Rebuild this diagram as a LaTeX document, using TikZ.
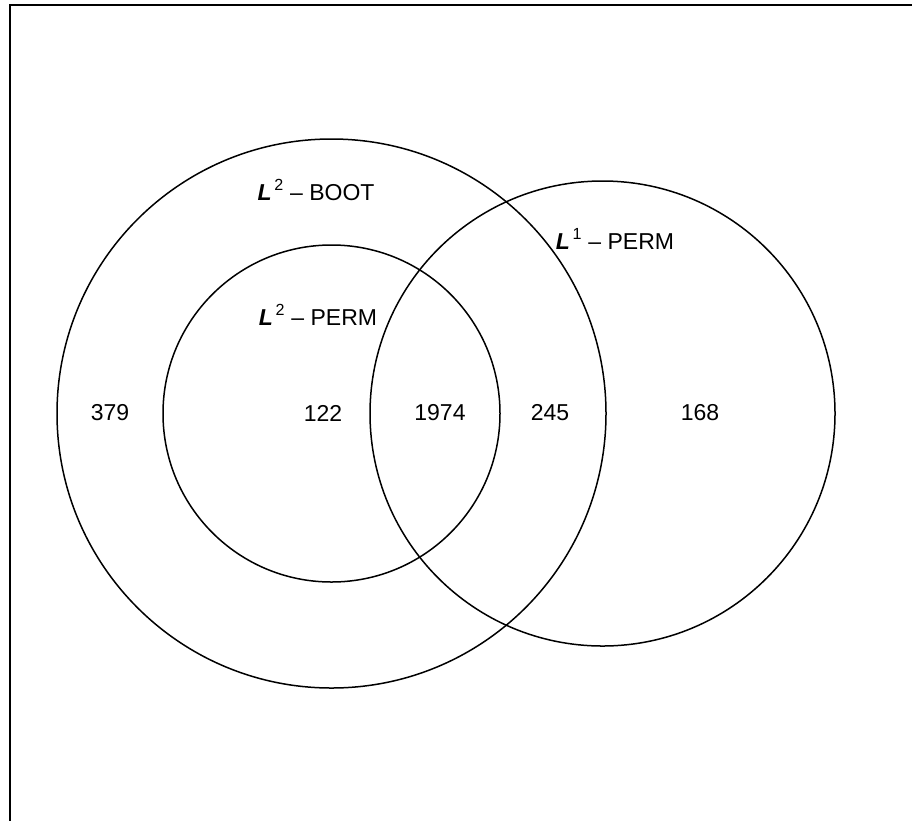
\documentclass[tikz,border=0pt]{standalone}
\usepackage{fontspec}
\setmainfont{Liberation Sans}
\begin{document}
\begin{tikzpicture}[x=1pt,y=-1pt,
  setcircle/.style={draw=black, line width=1.5pt, circle, inner sep=0pt, fill=none},
  lbl/.style={font=\fontsize{23}{26}\selectfont, inner sep=0pt, anchor=base},
  cnt/.style={font=\fontsize{23}{26}\selectfont, inner sep=0pt}]
  \useasboundingbox (0,0) rectangle (912,820);
  % plot frame (only its left and top sides fall inside the page)
  \coordinate (fbl) at (10,830);
  \coordinate (ftl) at (10,5);
  \coordinate (ftr) at (922,5);
  \draw[line width=1.8pt] (fbl) -- (ftl) -- (ftr);
  % the three sets
  \node[setcircle, minimum size=549pt] (boot2) at (331.5,413.5) {};
  \node[setcircle, minimum size=337pt] (perm2) at (331.5,413.5) {};
  \node[setcircle, minimum size=465pt] (perm1) at (602.5,413.5) {};
  % set names
  \node[lbl] (nboot2) at (316,200) {\textbf{\textit{L}}\textsuperscript{\,2} – BOOT};
  \node[lbl] (nperm2) at (318,325) {\textbf{\textit{L}}\textsuperscript{\,2} – PERM};
  \node[lbl] (nperm1) at (615,249) {\textbf{\textit{L}}\textsuperscript{\,1} – PERM};
  % region counts
  \node[cnt] (c379) at (110,413) {379};
  \node[cnt] (c122) at (323,413) {122};
  \node[cnt] (c1974) at (440,413) {1974};
  \node[cnt] (c245) at (550,413) {245};
  \node[cnt] (c168) at (700,413) {168};
\end{tikzpicture}
\end{document}
